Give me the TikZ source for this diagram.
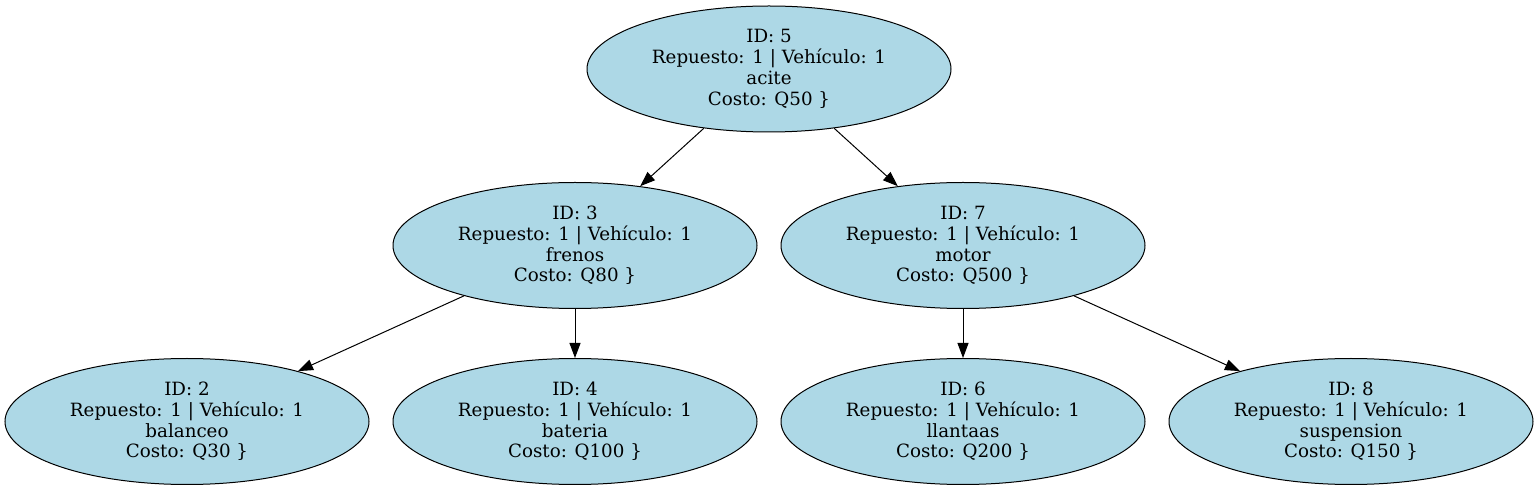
\documentclass[tikz,border=0pt]{standalone}
\usepackage{fontspec}
\setmainfont{DejaVu Serif}
\usetikzlibrary{shapes.geometric,arrows.meta}
\definecolor{nodefill}{HTML}{ADD8E6}
\tikzset{
  treenode/.style={ellipse, draw=black, line width=0.75pt, fill=nodefill,
    minimum width=273pt, minimum height=94.5pt, inner sep=0pt,
    align=center, font=\fontsize{13.7pt}{15.6pt}\selectfont},
  edge/.style={line width=0.75pt, -{Triangle[length=11.25pt,width=8.25pt]}}
}
\begin{document}
\begin{tikzpicture}[x=0.75pt,y=-0.75pt]
\useasboundingbox (0,0) rectangle (1539,491);
\node[treenode] (n5) at (769,69) {ID: 5\\Repuesto: 1 | Vehículo: 1\\acite\\Costo: Q50 \}};
\node[treenode] (n3) at (575,245.5) {ID: 3\\Repuesto: 1 | Vehículo: 1\\frenos\\Costo: Q80 \}};
\node[treenode] (n7) at (963,245.5) {ID: 7\\Repuesto: 1 | Vehículo: 1\\motor\\Costo: Q500 \}};
\node[treenode] (n2) at (187,421.5) {ID: 2\\Repuesto: 1 | Vehículo: 1\\balanceo\\Costo: Q30 \}};
\node[treenode] (n4) at (575,421.5) {ID: 4\\Repuesto: 1 | Vehículo: 1\\bateria\\Costo: Q100 \}};
\node[treenode] (n6) at (963,421.5) {ID: 6\\Repuesto: 1 | Vehículo: 1\\llantaas\\Costo: Q200 \}};
\node[treenode] (n8) at (1351,421.5) {ID: 8\\Repuesto: 1 | Vehículo: 1\\suspension\\Costo: Q150 \}};
\draw[edge] (n5) -- (n3);
\draw[edge] (n5) -- (n7);
\draw[edge] (n3) -- (n2);
\draw[edge] (n3) -- (n4);
\draw[edge] (n7) -- (n6);
\draw[edge] (n7) -- (n8);
\end{tikzpicture}
\end{document}
